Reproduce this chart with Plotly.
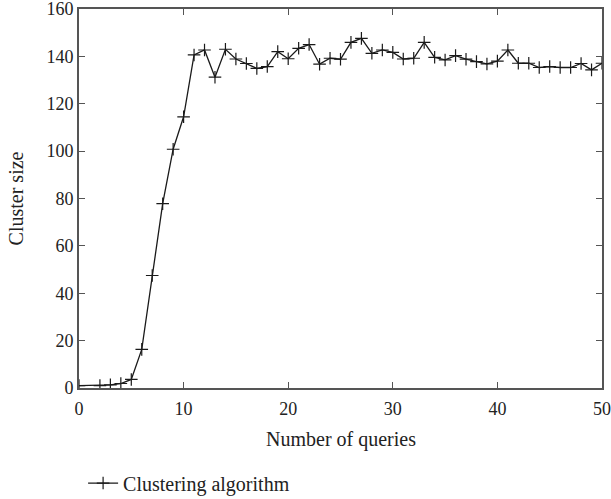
import plotly.graph_objects as go

queries = [0, 2, 3, 4, 5, 6, 7, 8, 9, 10, 11, 12, 13, 14, 15, 16, 17, 18, 19, 20,
           21, 22, 23, 24, 25, 26, 27, 28, 29, 30, 31, 32, 33, 34, 35, 36, 37, 38, 39, 40,
           41, 42, 43, 44, 45, 46, 47, 48, 49, 50]
cluster_size = [1, 1, 1.3, 1.9, 3.6, 16.3, 47.5, 77.8, 100.8, 114.5, 140.6, 142.7, 131.2, 143, 138.9, 137, 134.9, 135.7, 142, 139,
                143.4, 145, 136.7, 139.2, 138.8, 145.9, 147.6, 141.3, 142.7, 141.7, 138.9, 139.2, 145.9, 139.6, 138.5, 140.3, 138.8, 137.8, 136.8, 138,
                142.7, 137.1, 137.1, 135.3, 135.7, 135.3, 135.3, 137, 134.3, 137.1]

FONT = "Liberation Serif"
TXT = "#222"

fig = go.Figure()
fig.add_trace(go.Scatter(
    x=queries, y=cluster_size, mode="lines+markers", name="Clustering algorithm",
    line=dict(color="#1a1a1a", width=1.3),
    marker=dict(symbol="cross-thin", size=9, line=dict(color="#1a1a1a", width=1.2)),
))

axis_common = dict(
    showline=True, linecolor="#555", linewidth=1.6, mirror="ticks",
    ticks="inside", ticklen=6, tickcolor="#555", tickwidth=1.2,
    showgrid=False, zeroline=False, ticklabeloverflow="allow",
    tickfont=dict(family=FONT, size=18, color=TXT),
)

fig.update_layout(
    width=611, height=499,
    margin=dict(l=79, r=9, t=9, b=111, autoexpand=False),
    plot_bgcolor="white", paper_bgcolor="white",
    xaxis=dict(range=[0, 50], dtick=10, ticklabelstandoff=4, **axis_common),
    yaxis=dict(range=[0, 160], dtick=20,
               title=dict(text="Cluster size", font=dict(family=FONT, size=20, color=TXT), standoff=18),
               **axis_common),
    showlegend=True,
    legend=dict(xref="container", yref="container", x=0.136, y=0.032,
                xanchor="left", yanchor="middle", orientation="h",
                font=dict(family=FONT, size=20, color=TXT), bgcolor="rgba(0,0,0,0)"),
    annotations=[dict(text="Number of queries", xref="paper", yref="paper", x=0.5, y=-0.1346,
                      xanchor="center", yanchor="middle", showarrow=False,
                      font=dict(family=FONT, size=20, color=TXT))],
)

fig.write_html("out.html")
